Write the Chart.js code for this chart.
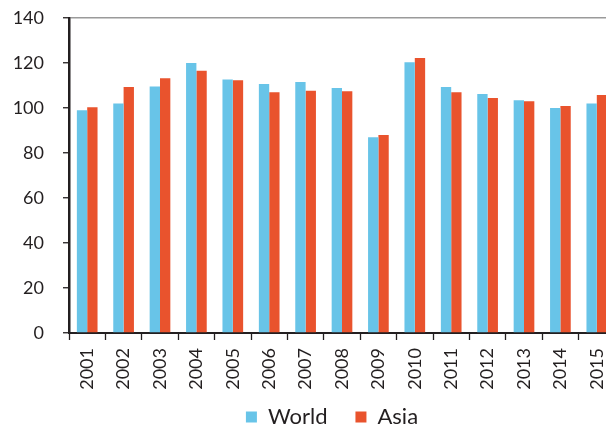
<!DOCTYPE html>
<html lang="en">
<head>
  <meta charset="UTF-8" />
  <title>World vs Asia</title>
  <script src="https://cdn.jsdelivr.net/npm/chart.js"></script>
  <style>
    body {
      margin: 0;
      background: #fff;
      overflow: hidden;
    }
    .grafico-container {
      width: 615px;
      height: 427px;
    }
  </style>
</head>
<body>
  <div class="grafico-container">
    <canvas id="grafico"></canvas>
  </div>

  <script>
    const anos = ['2001', '2002', '2003', '2004', '2005', '2006', '2007', '2008',
                  '2009', '2010', '2011', '2012', '2013', '2014', '2015'];
    const world = [99, 102, 109.6, 120, 112.7, 110.7, 111.6, 108.9, 87, 120.3, 109.3, 106.2, 103.4, 100, 102];
    const asia = [100.3, 109.3, 113.2, 116.6, 112.3, 107, 107.7, 107.5, 88, 122.2, 107, 104.4, 103, 100.9, 105.8];
    const yTicks = [0, 20, 40, 60, 80, 100, 120, 140];

    const corTexto = '#231f20';
    const fonte = 'Lato';

    // sobe a legenda (sobrepondo a faixa do eixo x) e puxa um pouco para a esquerda
    const ajusteLegenda = {
      id: 'ajusteLegenda',
      afterLayout(chart) {
        const l = chart.legend;
        l.top -= 14;
        l.left -= 10; l.right -= 10;
      }
    };

    const config = {
      type: 'bar',
      data: {
        labels: anos,
        datasets: [
          { label: 'World', data: world, backgroundColor: '#68c4e8', borderWidth: 0 },
          { label: 'Asia', data: asia, backgroundColor: '#e9532d', borderWidth: 0 }
        ]
      },
      options: {
        responsive: true,
        maintainAspectRatio: false,
        animation: false,
        categoryPercentage: 0.568,
        barPercentage: 1.0,
        layout: { padding: { top: 18, left: 0, right: 0, bottom: 0 } },
        plugins: {
          tooltip: { enabled: false },
          legend: {
            position: 'bottom',
            fullSize: false,
            maxHeight: 35,
            labels: {
              color: corTexto,
              font: { family: fonte, size: 22 },
              boxWidth: 11,
              boxHeight: 11,
              padding: 28
            }
          }
        },
        scales: {
          x: {
            afterFit: (s) => { s.height = 59; s.paddingLeft = 0; s.paddingRight = 0; },
            border: { color: corTexto, width: 2 },
            grid: {
              offset: true,
              drawOnChartArea: false,
              tickLength: 7,
              tickColor: corTexto,
              tickWidth: 1.3
            },
            ticks: {
              autoSkip: false,
              minRotation: 90,
              maxRotation: 90,
              padding: 8,
              color: corTexto,
              font: { family: fonte, size: 18 }
            }
          },
          y: {
            min: 0,
            max: 140,
            afterFit: (s) => { s.width = 69; s.paddingTop = 0; s.paddingBottom = 0; },
            afterBuildTicks: (s) => { s.ticks = yTicks.map(v => ({ value: v })); },
            border: { color: corTexto, width: 2.5 },
            grid: {
              color: (c) => c.tick && c.tick.value === 140 ? '#9a9a9a' : 'rgba(0,0,0,0)',
              lineWidth: 1.5,
              tickLength: 6,
              tickColor: corTexto,
              tickWidth: 1.3
            },
            ticks: {
              padding: 19,
              color: corTexto,
              font: { family: fonte, size: 18 }
            }
          }
        }
      },
      plugins: [ajusteLegenda]
    };

    new Chart(document.getElementById('grafico').getContext('2d'), config);
  </script>
</body>
</html>
